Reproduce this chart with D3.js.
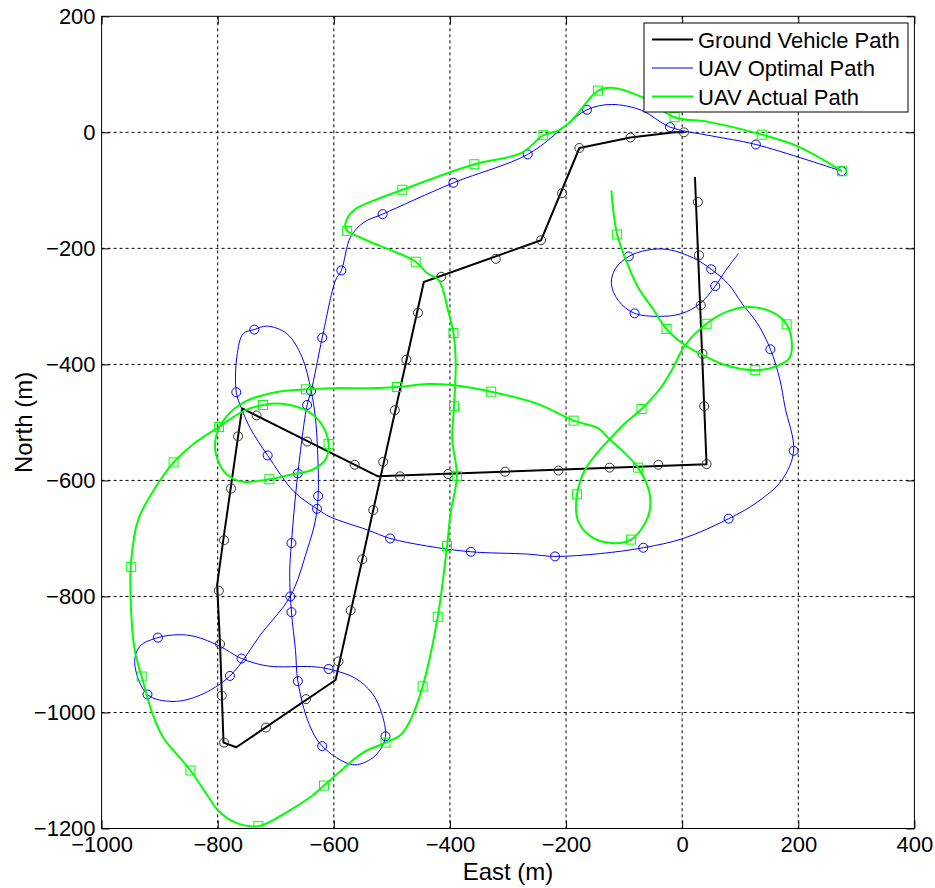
<!DOCTYPE html>
<html lang="en">
<head>
<meta charset="UTF-8">
<title>UAV paths</title>
<script src="https://d3js.org/d3.v7.min.js"></script>
<style>
  body { margin: 0; background: #fff; }
  svg { display: block; font-family: "Liberation Sans", Arial, sans-serif; }
  .tick text { font-size: 22px; fill: #000; }
</style>
</head>
<body>
<svg id="chart"></svg>
<script>
// tick labels
const xTicks = [-1000, -800, -600, -400, -200, 0, 200, 400];
const yTicks = [-1200, -1000, -800, -600, -400, -200, 0, 200];

// ground vehicle path (East, North)
const groundPath = [
  [22, -77], [42, -572], [-524, -593], [-758, -476], [-790, -700], [-801, -780],
  [-796, -882], [-790, -1052], [-768, -1060], [-597, -944], [-445, -258],
  [-243, -186], [-177, -27], [-89, -9], [-13, 0], [3, 0]
];
const groundMarks = [
  [27, -120], [29, -212], [32, -298], [35, -382], [38, -472], [42, -572],
  [-41, -573], [-125, -578], [-213, -583], [-305, -585], [-403, -589], [-486, -593],
  [-564, -573], [-646, -533], [-733, -488], [-765, -524], [-777, -614], [-789, -703],
  [-798, -790], [-796, -882], [-793, -971], [-789, -1052], [-717, -1026], [-648, -977],
  [-592, -912], [-571, -824], [-551, -736], [-532, -651], [-515, -568], [-495, -479],
  [-475, -392], [-455, -311], [-415, -249], [-321, -218], [-243, -186], [-207, -105],
  [-177, -27], [-89, -9], [3, 0]
];

// UAV optimal path
const optimalPath = [
  [97, -209], [75, -238], [57, -265], [30, -296], [0, -312], [-30, -317], [-82, -312],
  [-110, -290], [-122, -261], [-115, -235], [-92, -214], [-60, -203], [-24, -202],
  [20, -217], [50, -236], [80, -262], [103, -295], [130, -330], [152, -374],
  [168, -425], [177, -473], [192, -549], [172, -599], [130, -637], [80, -666],
  [2, -700], [-67, -716], [-140, -726], [-219, -731], [-266, -727], [-364, -723],
  [-440, -713], [-503, -700], [-543, -685], [-606, -663], [-629, -649], [-669, -619],
  [-714, -557], [-744, -510], [-759, -476], [-768, -448], [-767, -387], [-756, -347],
  [-737, -340], [-715, -334], [-681, -347], [-655, -387], [-639, -446], [-632, -490],
  [-628, -548], [-627, -627], [-632, -670], [-646, -720], [-675, -800], [-724, -863],
  [-779, -937], [-830, -970], [-877, -981], [-921, -969], [-943, -915], [-934, -886],
  [-903, -871], [-868, -866], [-839, -869], [-796, -886], [-759, -907], [-713, -920],
  [-638, -921], [-609, -925], [-563, -941], [-534, -967], [-518, -1000], [-511, -1041],
  [-520, -1064], [-537, -1081], [-568, -1090], [-620, -1058], [-643, -1019],
  [-662, -946], [-666, -893], [-673, -827], [-676, -760], [-673, -708], [-662, -588],
  [-646, -470], [-639, -446], [-620, -354], [-597, -255], [-587, -238], [-571, -180],
  [-548, -155], [-516, -141], [-394, -87], [-266, -38], [-200, 12], [-164, 39],
  [-122, 48], [-70, 38], [-21, 9], [50, -6], [127, -21], [275, -67]
];
const optimalMarks = [
  [57, -265], [50, -236], [-92, -214], [-82, -312], [152, -374], [192, -549],
  [80, -666], [-67, -716], [-219, -731], [-364, -723], [-503, -700], [-629, -649],
  [-714, -557], [-768, -448], [-737, -340], [-639, -446], [-627, -627], [-675, -800],
  [-779, -937], [-921, -969], [-903, -871], [-759, -907], [-609, -925], [-511, -1041],
  [-620, -1058], [-662, -946], [-673, -827], [-673, -708], [-662, -588], [-646, -470],
  [-620, -354], [-587, -238], [-516, -141], [-394, -87], [-266, -38], [-164, 39],
  [-21, 9], [127, -21], [275, -67]
];

// UAV actual path
const actualPath = [
  [-122, -100], [-118, -140], [-112, -176], [-95, -225], [-76, -267], [-50, -305],
  [-27, -339], [5, -367], [36, -384], [74, -401], [126, -410], [160, -404], [184, -390],
  [189, -364], [180, -331], [155, -310], [114, -301], [75, -310], [42, -330], [5, -367],
  [-18, -410], [-36, -439], [-70, -477], [-99, -502], [-125, -529], [-145, -551],
  [-168, -583], [-181, -624], [-180, -668], [-157, -697], [-122, -708], [-88, -702],
  [-59, -663], [-56, -623], [-76, -578], [-99, -553], [-125, -529], [-145, -510],
  [-187, -497], [-249, -468], [-329, -447], [-393, -436], [-439, -434], [-491, -439],
  [-537, -441], [-600, -441], [-648, -443], [-700, -448], [-753, -464], [-785, -490],
  [-803, -525], [-803, -555], [-787, -587], [-759, -602], [-711, -598], [-678, -591],
  [-638, -582], [-615, -565], [-609, -537], [-620, -505], [-643, -482], [-689, -468],
  [-722, -470], [-755, -480], [-798, -508], [-840, -536], [-876, -569], [-914, -623],
  [-937, -668], [-949, -737], [-950, -806], [-943, -892], [-931, -938], [-911, -1006],
  [-894, -1043], [-868, -1075], [-847, -1100], [-817, -1144], [-800, -1168],
  [-771, -1189], [-730, -1196], [-678, -1170], [-638, -1144], [-617, -1126],
  [-592, -1104], [-551, -1070], [-511, -1052], [-485, -1039], [-468, -1013],
  [-447, -955], [-421, -835], [-405, -713], [-399, -657], [-388, -592], [-396, -530],
  [-393, -472], [-390, -398], [-394, -346], [-402, -312], [-419, -255], [-439, -243],
  [-459, -223], [-502, -203], [-537, -189], [-557, -180], [-577, -170], [-580, -157],
  [-565, -134], [-537, -120], [-482, -99], [-358, -55], [-278, -36], [-239, -5],
  [-214, 3], [-191, 20], [-145, 72], [-122, 77], [-70, 61], [-13, 26], [45, 18],
  [137, -4], [201, -25], [275, -67]
];
const actualMarks = [
  [-112, -176], [-27, -339], [42, -330], [180, -331], [126, -410], [-70, -477],
  [-181, -624], [-88, -702], [-76, -578], [-187, -497], [-329, -447], [-491, -439],
  [-648, -443], [-722, -470], [-609, -537], [-711, -598], [-798, -508], [-876, -569],
  [-949, -749], [-931, -938], [-847, -1100], [-730, -1196], [-617, -1126], [-511, -1052],
  [-447, -955], [-421, -835], [-405, -713], [-388, -592], [-393, -472], [-394, -346],
  [-459, -223], [-577, -170], [-482, -99], [-358, -55], [-239, -5], [-145, 72],
  [-13, 26], [137, -4], [275, -67]
];

const seriesNames = ["Ground Vehicle Path", "UAV Optimal Path", "UAV Actual Path"];

const w = 935, h = 888;
const padL = 101.6, padR = 914.4, padT = 16.3, padB = 828.5;

const svg = d3.select("#chart").attr("width", w).attr("height", h);

const x = d3.scaleLinear().domain([-1000, 400]).range([padL, padR]);
const y = d3.scaleLinear().domain([-1200, 200]).range([padB, padT]);

// grid
const grid = svg.append("g")
  .attr("stroke", "#000")
  .attr("stroke-width", 1)
  .attr("stroke-dasharray", "3,3");
grid.selectAll(".gx")
  .data(xTicks.slice(1, -1))
  .enter()
  .append("line")
  .attr("x1", d => x(d)).attr("x2", d => x(d))
  .attr("y1", padT).attr("y2", padB);
grid.selectAll(".gy")
  .data(yTicks.slice(1, -1))
  .enter()
  .append("line")
  .attr("y1", d => y(d)).attr("y2", d => y(d))
  .attr("x1", padL).attr("x2", padR);

svg.append("defs").append("clipPath").attr("id", "clip")
  .append("rect")
  .attr("x", padL).attr("y", padT)
  .attr("width", padR - padL).attr("height", padB - padT);

const plot = svg.append("g").attr("clip-path", "url(#clip)");

const straight = d3.line().x(d => x(d[0])).y(d => y(d[1]));
const smooth = d3.line().x(d => x(d[0])).y(d => y(d[1])).curve(d3.curveCatmullRom.alpha(0.5));

// ground vehicle
plot.append("path")
  .attr("d", straight(groundPath))
  .attr("fill", "none")
  .attr("stroke", "#000")
  .attr("stroke-width", 2)
  .attr("stroke-linejoin", "round");
plot.selectAll(".gm")
  .data(groundMarks)
  .enter()
  .append("circle")
  .attr("cx", d => x(d[0]))
  .attr("cy", d => y(d[1]))
  .attr("r", 4.5)
  .attr("fill", "none")
  .attr("stroke", "#333")
  .attr("stroke-width", 1);

// optimal
plot.append("path")
  .attr("d", smooth(optimalPath))
  .attr("fill", "none")
  .attr("stroke", "#0000ff")
  .attr("stroke-width", 1);
plot.selectAll(".om")
  .data(optimalMarks)
  .enter()
  .append("circle")
  .attr("cx", d => x(d[0]))
  .attr("cy", d => y(d[1]))
  .attr("r", 4.5)
  .attr("fill", "none")
  .attr("stroke", "#0000ff")
  .attr("stroke-width", 1);

// actual
plot.append("path")
  .attr("d", smooth(actualPath))
  .attr("fill", "none")
  .attr("stroke", "#00ff00")
  .attr("stroke-width", 2);
plot.selectAll(".am")
  .data(actualMarks)
  .enter()
  .append("rect")
  .attr("x", d => x(d[0]) - 4.5)
  .attr("y", d => y(d[1]) - 4.5)
  .attr("width", 9)
  .attr("height", 9)
  .attr("fill", "none")
  .attr("stroke", "#00ff00")
  .attr("stroke-width", 1);

// axes, ticks pointing inwards
const fmt = d3.format("d");
svg.append("g")
  .attr("transform", "translate(0," + padB + ")")
  .call(d3.axisBottom(x).tickValues(xTicks).tickFormat(fmt).tickSize(-8).tickPadding(8).tickSizeOuter(0));
svg.append("g")
  .attr("transform", "translate(0," + padT + ")")
  .call(d3.axisTop(x).tickValues(xTicks).tickSize(-8).tickFormat("").tickSizeOuter(0));
svg.append("g")
  .attr("transform", "translate(" + padL + ",0)")
  .call(d3.axisLeft(y).tickValues(yTicks).tickFormat(fmt).tickSize(-8).tickPadding(6).tickSizeOuter(0));
svg.append("g")
  .attr("transform", "translate(" + padR + ",0)")
  .call(d3.axisRight(y).tickValues(yTicks).tickSize(-8).tickFormat("").tickSizeOuter(0));
svg.selectAll(".domain").remove();
svg.selectAll(".tick line").attr("stroke", "#000");

svg.append("rect")
  .attr("x", padL).attr("y", padT)
  .attr("width", padR - padL).attr("height", padB - padT)
  .attr("fill", "none")
  .attr("stroke", "#000")
  .attr("stroke-width", 1);

// axis labels
svg.append("text")
  .attr("x", (padL + padR) / 2)
  .attr("y", 880)
  .attr("text-anchor", "middle")
  .style("font-size", "24px")
  .text("East (m)");
svg.append("text")
  .attr("transform", "translate(32," + ((padT + padB) / 2) + ") rotate(-90)")
  .attr("text-anchor", "middle")
  .style("font-size", "24px")
  .text("North (m)");

// legend
const legend = svg.append("g");
legend.append("rect")
  .attr("x", 644).attr("y", 23)
  .attr("width", 264).attr("height", 89)
  .attr("fill", "#fff")
  .attr("stroke", "#000")
  .attr("stroke-width", 1);
const legendColors = ["#000", "#0000ff", "#00ff00"];
const legendWidths = [2, 1, 2];
seriesNames.forEach((name, i) => {
  const ly = 39.5 + i * 28.5;
  legend.append("line")
    .attr("x1", 652).attr("x2", 693)
    .attr("y1", ly).attr("y2", ly)
    .attr("stroke", legendColors[i])
    .attr("stroke-width", legendWidths[i]);
  legend.append("text")
    .attr("x", 698)
    .attr("y", ly + 8)
    .style("font-size", "22px")
    .text(name);
});
</script>
</body>
</html>
